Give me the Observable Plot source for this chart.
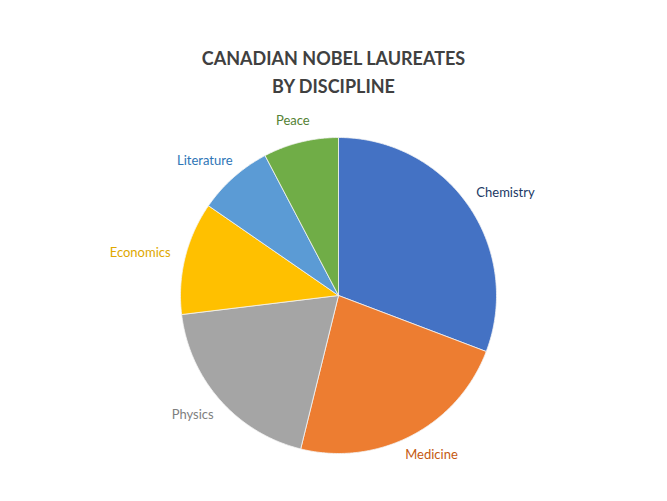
<!DOCTYPE html>
<html>
<head>
<meta charset="utf-8">
<script src="https://cdn.jsdelivr.net/npm/d3@7"></script>
<script src="https://cdn.jsdelivr.net/npm/@observablehq/plot@0.6"></script>
<style>
  html, body { margin: 0; padding: 0; background: #fff; }
  #wrap { position: relative; width: 667px; height: 501px; }
  #title { position: absolute; left: 0; width: 667px; top: 44px; text-align: center;
    font-family: Lato, "Open Sans", sans-serif; font-weight: bold; font-size: 18px;
    line-height: 28px; color: #404040; }
  #chart { position: absolute; left: 0; top: 0; }
</style>
</head>
<body>
<div id="wrap">
  <div id="chart"></div>
  <div id="title">CANADIAN NOBEL LAUREATES<br>BY DISCIPLINE</div>
</div>
<script>
const disciplines = ["Chemistry", "Medicine", "Physics", "Economics", "Literature", "Peace"];
const laureates = [8, 6, 5, 3, 2, 2];
const sliceColors = ["#4472C4", "#ED7D31", "#A5A5A5", "#FFC000", "#5B9BD5", "#70AD47"];
const labelColors = ["#203864", "#C55A11", "#7F7F7F", "#E0A800", "#2E75B6", "#548235"];

const cx = 338, cy = 295, R = 158;
const labelFont = "13px Lato";
const labelSize = 13;

const data = disciplines.map((d, i) => ({name: d, value: laureates[i]}));
const arcs = d3.pie().value(d => d.value).sort(null)(data);

// polygon vertices of each sector on a unit circle (angle clockwise from top)
const pts = [];
arcs.forEach(a => {
  const n = Math.max(2, Math.ceil((a.endAngle - a.startAngle) / 0.01));
  pts.push({name: a.data.name, x: 0, y: 0});
  for (let k = 0; k <= n; k++) {
    const t = a.startAngle + (a.endAngle - a.startAngle) * k / n;
    pts.push({name: a.data.name, x: Math.sin(t), y: Math.cos(t)});
  }
  pts.push({name: a.data.name, x: 0, y: 0});
});

// outside-end labels: anchor point just outside the rim, text box pushed outward
const ctx = document.createElement("canvas").getContext("2d");
ctx.font = labelFont;
const anchorR = 1.10;
const labels = arcs.map((a, i) => {
  const m = (a.startAngle + a.endAngle) / 2;
  const w = ctx.measureText(a.data.name).width;
  const h = labelSize * 0.95;
  const ax = anchorR * Math.sin(m) + (w / 2) * Math.sin(m) / R;
  const ay = anchorR * Math.cos(m) + (h / 2) * Math.cos(m) / R;
  return {name: a.data.name, x: ax, y: ay, color: labelColors[i]};
});

const chart = Plot.plot({
  width: 667,
  height: 501,
  margin: 0,
  x: {domain: [-1, 1], range: [cx - R, cx + R], axis: null},
  y: {domain: [-1, 1], range: [cy + R, cy - R], axis: null},
  color: {domain: disciplines, range: sliceColors},
  style: {background: "#fff"},
  marks: [
    Plot.line(pts, {x: "x", y: "y", z: "name", fill: "name", stroke: "#f4f4f4", strokeWidth: 0.8, curve: "linear"}),
    Plot.text(labels, {x: "x", y: "y", text: "name", fill: "color", fontSize: labelSize,
      fontFamily: "Lato, 'Open Sans', sans-serif", textAnchor: "middle"})
  ]
});
document.getElementById("chart").appendChild(chart);
</script>
</body>
</html>
